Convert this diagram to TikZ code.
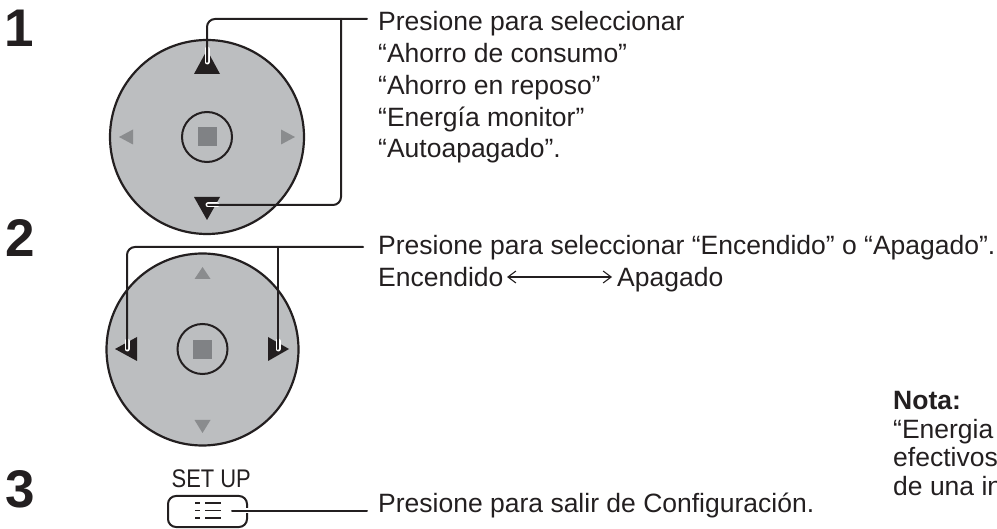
\documentclass[tikz,border=0pt]{standalone}
\usepackage{fontspec}
\setmainfont{Liberation Sans}
\usetikzlibrary{arrows.meta}
\definecolor{ink}{HTML}{231F20}
\definecolor{padgray}{HTML}{BCBEC0}
\definecolor{keygray}{HTML}{808285}
\definecolor{trigray}{HTML}{8A8C8E}
\begin{document}
\begin{tikzpicture}[x=1pt,y=-1pt,
  txt/.style={anchor=base west, inner sep=0pt, font=\fontsize{26.5}{31.8}\selectfont, text=ink},
  numlabel/.style={anchor=base west, inner sep=0pt, font=\fontsize{53}{53}\selectfont\bfseries, text=ink},
  conn/.style={draw=ink, line width=2pt, rounded corners=8pt, line cap=round},
  halo/.style={draw=white, line width=5pt, line cap=round},
  padcircle/.style={circle, draw=ink, fill=padgray, line width=2.2pt, inner sep=0pt},
  okcircle/.style={circle, draw=ink, fill=padgray, line width=2pt, inner sep=0pt, minimum size=50pt},
  okkey/.style={fill=keygray, inner sep=0pt, minimum size=19pt},
  blacktri/.style={fill=ink},
  graytri/.style={fill=trigray},
  iconline/.style={draw=ink, line width=1.6pt},
  arrowline/.style={draw=ink, line width=1.1pt, {Straight Barb[length=8pt,width=12pt,line width=1.1pt]}-{Straight Barb[length=8pt,width=12pt,line width=1.1pt]}}
]
\clip (0,0) rectangle (997,529);

% ---------- step numbers
\node[numlabel] (n1) at (4,47) {1};
\node[numlabel] (n2) at (5,256.5) {2};
\node[numlabel] (n3) at (5,507.5) {3};

% ---------- pad 1
\node[padcircle, minimum size=194pt] (pad1) at (207,137) {};
\node[okcircle] (ok1) at (207,137) {};
\node[okkey] (key1) at (207.5,137) {};
\path[blacktri] (194,74) -- (220,74) -- (207,50) -- cycle;
\path[blacktri] (194,197) -- (220,197) -- (207,220) -- cycle;
\path[graytri] (119,137) -- (133,129.5) -- (133,144.5) -- cycle;
\path[graytri] (295,137) -- (281,129.5) -- (281,144.5) -- cycle;

% ---------- pad 2
\node[padcircle, minimum size=192pt] (pad2) at (202.5,349.5) {};
\node[okcircle] (ok2) at (202.5,349) {};
\node[okkey] (key2) at (202.5,349.5) {};
\path[blacktri] (115,349) -- (137,337) -- (137,361) -- cycle;
\path[blacktri] (289,349) -- (268,337) -- (268,361) -- cycle;
\path[graytri] (202.5,267) -- (194.5,279) -- (210.5,279) -- cycle;
\path[graytri] (202.5,433) -- (194.5,420) -- (210.5,420) -- cycle;

% ---------- SET UP button
\node[anchor=base west, inner sep=0pt, xscale=0.86, font=\fontsize{25.5}{25.5}\selectfont, text=ink] (setup) at (171.5,488) {SET UP};
\node[draw=ink, line width=2pt, rounded corners=8pt, minimum width=79pt, minimum height=31pt, inner sep=0pt] (btn) at (207.5,511.5) {};
\draw[iconline] (195,503) -- (200,503);
\draw[iconline] (195,510.5) -- (200,510.5);
\draw[iconline] (195,518) -- (200,518);
\draw[iconline] (205,503) -- (221,503);
\draw[iconline] (205,510.5) -- (221,510.5);
\draw[iconline] (205,518) -- (221,518);

% ---------- texts
\node[txt] (s1a) at (378,30.7) {Presione para seleccionar};
\node[txt] (s1b) at (378,62.5) {“Ahorro de consumo”};
\node[txt] (s1c) at (378,94.3) {“Ahorro en reposo”};
\node[txt] (s1d) at (378,126.1) {“Energía monitor”};
\node[txt] (s1e) at (378,157.9) {“Autoapagado”.};
\node[txt] (s2a) at (378,255) {Presione para seleccionar “Encendido” o “Apagado”.};
\node[txt] (s2b) at (378,286.8) {Encendido};
\node[txt] (s2c) at (617,286.8) {Apagado};
\node[txt] (s3a) at (378,512) {Presione para salir de Configuración.};
\node[txt, font=\fontsize{26.5}{28.5}\selectfont\bfseries] (nota) at (893,410) {Nota:};
\node[txt] (nota1) at (893,438.5) {“Energia};
\node[txt] (nota2) at (893,467) {efectivos};
\node[txt] (nota3) at (893,495.5) {de una in};

% ---------- connectors
\coordinate (e1a) at (207,62);
\coordinate (e1b) at (208,205);
\coordinate (j1) at (341,19);
\coordinate (t1c) at (367,19);
\coordinate (e2a) at (127,349);
\coordinate (e2b) at (278,349);
\coordinate (j2) at (278,247);
\coordinate (t2c) at (363,247);
\coordinate (e3) at (232,510.5);
\coordinate (t3c) at (367,510.5);
\coordinate (arL) at (507,277);
\coordinate (arR) at (612,277);

\draw[halo] (e1a) -- ++(0,-13);
\draw[halo] (e1b) -- ++(9,0);
\draw[halo] (e2a) -- ++(0,-8);
\draw[halo] (e2b) -- ++(0,-8);
\draw[halo] (e3) -- ++(22,0);

\draw[conn] (e1a) |- (t1c);
\draw[conn] (j1) |- (e1b);
\draw[conn] (e2a) |- (t2c);
\draw[conn] (j2) -- (e2b);
\draw[conn] (e3) -- (t3c);

\draw[arrowline] (arL) -- (arR);
\end{tikzpicture}
\end{document}
